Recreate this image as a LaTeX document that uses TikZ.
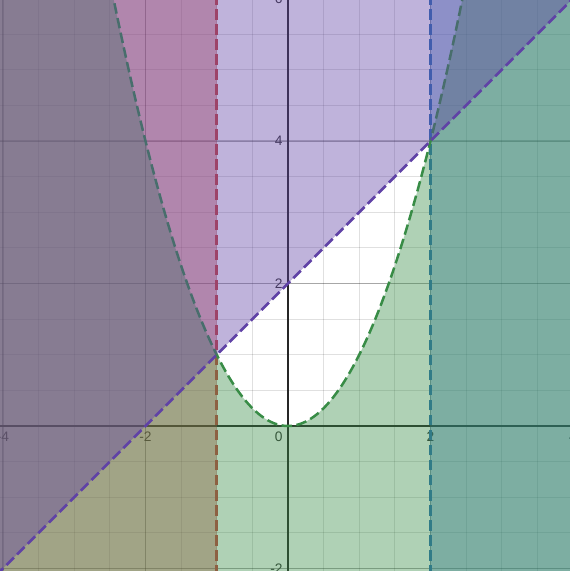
\documentclass[tikz,border=0pt]{standalone}
\usepackage{fontspec}
\setmainfont{Liberation Sans}
\definecolor{dred}{HTML}{C74440}
\definecolor{dblue}{HTML}{2D70B3}
\definecolor{dgreen}{HTML}{388C46}
\definecolor{dpurple}{HTML}{6042A6}
\begin{document}
\begin{tikzpicture}[x=1cm,y=1cm,
  minor/.style={black, opacity=0.12, line width=0.4pt},
  major/.style={black, opacity=0.25, line width=0.45pt},
  ax/.style={black!85, line width=0.6pt},
  lab/.style={font=\fontsize{5.5}{6.5}\selectfont, text=black!80, inner sep=0pt},
  region/.style={fill opacity=0.4},
  curve/.style={line width=1pt, dash pattern=on 4.2pt off 1.8pt}]
\useasboundingbox (-4.042,-2.035) rectangle (3.958,5.979);
\clip (-4.042,-2.035) rectangle (3.958,5.979);
\fill[white] (-4.042,-2.035) rectangle (3.958,5.979);
% grid
\foreach \v in {-4,-3.5,...,4} {\draw[minor] (\v,-2.1) -- (\v,6.1);}
\foreach \v in {-2.5,-2,...,6} {\draw[minor] (-4.1,\v) -- (4.1,\v);}
\foreach \v in {-4,-2,2,4} {\draw[major] (\v,-2.1) -- (\v,6.1);}
\foreach \v in {-2,2,4,6} {\draw[major] (-4.1,\v) -- (4.1,\v);}
% axes
\draw[ax] (-4.1,0) -- (4.1,0);
\draw[ax] (0,-2.1) -- (0,6.1);
% labels
\node[lab] (xm4) at (-4,-0.155) {-4};
\node[lab] (xm2) at (-2,-0.155) {-2};
\node[lab] (x2) at (2,-0.155) {2};
\node[lab] (x4) at (4,-0.155) {4};
\node[lab, anchor=east] (o) at (-0.07,-0.155) {0};
\node[lab, anchor=east] (y2) at (-0.07,2) {2};
\node[lab, anchor=east] (y4) at (-0.07,4) {4};
\node[lab, anchor=east] (y6) at (-0.07,6) {6};
\node[lab, anchor=east] (ym2) at (-0.07,-2) {-2};
% red: x < -1
\fill[dred, region] (-4.1,-2.1) rectangle (-1,6.1);
\draw[dred, curve] (-1,-2.1) -- (-1,6.1);
% blue: x > 2
\fill[dblue, region] (2,-2.1) rectangle (4.1,6.1);
\draw[dblue, curve] (2,-2.1) -- (2,6.1);
% green: y < x^2
\fill[dgreen, region] (-4.1,-2.1) -- (-4.1,6.76) -- (-2.6,6.76)
  -- plot[domain=-2.6:2.6, samples=120, smooth] (\x,{\x*\x})
  -- (4.1,6.76) -- (4.1,-2.1) -- cycle;
\draw[dgreen, curve] plot[domain=-2.6:2.6, samples=120, smooth] (\x,{\x*\x});
% purple: y > x + 2
\fill[dpurple, region] (-4.1,-2.1) -- (4.1,6.1) -- (-4.1,6.1) -- cycle;
\draw[dpurple, curve] (-4.1,-2.1) -- (4.1,6.1);
\end{tikzpicture}
\end{document}
